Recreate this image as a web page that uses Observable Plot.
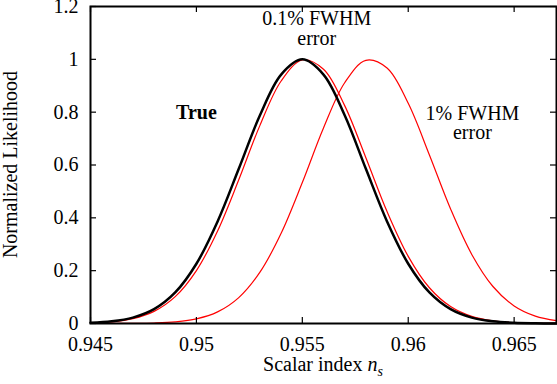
<!DOCTYPE html>
<html>
<head>
<meta charset="utf-8">
<script src="https://cdn.jsdelivr.net/npm/d3@7"></script>
<script src="https://cdn.jsdelivr.net/npm/@observablehq/plot@0.6"></script>
<style>
  html, body { margin: 0; padding: 0; background: #fff; }
  svg { display: block; }
</style>
</head>
<body>
<div id="chart"></div>
<script>
// Scalar index n_s sample points
const nsValues = [0.945, 0.946, 0.947, 0.948, 0.949, 0.950, 0.951, 0.952, 0.953, 0.954, 0.955, 0.956,
                  0.957, 0.958, 0.959, 0.960, 0.961, 0.962, 0.963, 0.964, 0.965, 0.966, 0.967];
// True likelihood (black)
const trueLike = [0.0026, 0.0081, 0.0223, 0.0543, 0.1176, 0.2262, 0.3863, 0.5856, 0.7884, 0.9423, 1.0000, 0.9423,
                  0.7884, 0.5856, 0.3863, 0.2262, 0.1176, 0.0543, 0.0223, 0.0081, 0.0026, 0.0008, 0.0002];
// 0.1% FWHM error (red)
const err01Like = [0.0021, 0.0065, 0.0184, 0.0459, 0.1017, 0.2004, 0.3504, 0.5440, 0.7500, 0.9180, 0.9976, 0.9627,
                   0.8248, 0.6275, 0.4238, 0.2542, 0.1353, 0.0640, 0.0269, 0.0100, 0.0033, 0.0010, 0.0003];
// 1% FWHM error (red)
const err1Like = [0.0000, 0.0001, 0.0005, 0.0019, 0.0062, 0.0175, 0.0439, 0.0980, 0.1943, 0.3417, 0.5337, 0.7401,
                  0.9113, 0.9963, 0.9671, 0.8335, 0.6379, 0.4334, 0.2615, 0.1401, 0.0666, 0.0281, 0.0106];

const xTicks = [0.945, 0.95, 0.955, 0.96, 0.965];
const xTickLabels = ["0.945", "0.95", "0.955", "0.96", "0.965"];
const yTicks = [0, 0.2, 0.4, 0.6, 0.8, 1, 1.2];
const yTickLabels = ["0", "0.2", "0.4", "0.6", "0.8", "1", "1.2"];

const annoText = ["True", "0.1% FWHM\nerror", "1% FWHM\nerror"];
const annoX = [0.95, 0.95568, 0.96303];
const annoY = [0.8, 1.182, 0.826];

const series = (vals) => nsValues.map((x, i) => ({x, y: vals[i]}));
const annos = annoText.map((t, i) => ({t, x: annoX[i], y: annoY[i]}));

const FONT = "'Liberation Serif', 'Times New Roman', serif";
const W = 557, H = 384, ML = 90, MR = 1, MT = 6, MB = 61;
const plotW = W - ML - MR, plotH = H - MT - MB, TICK = 6;

const chart = Plot.plot({
  width: W,
  height: H,
  marginLeft: ML,
  marginRight: MR,
  marginTop: MT,
  marginBottom: MB,
  style: {fontFamily: FONT, fontSize: "20px", background: "#fff", color: "#000"},
  x: {domain: [0.945, 0.967]},
  y: {domain: [0, 1.2]},
  marks: [
    Plot.line(series(err1Like), {x: "x", y: "y", stroke: "#ff0000", strokeWidth: 1.2, curve: "catmull-rom"}),
    Plot.line(series(err01Like), {x: "x", y: "y", stroke: "#ff0000", strokeWidth: 1.2, curve: "catmull-rom"}),
    Plot.line(series(trueLike), {x: "x", y: "y", stroke: "#000", strokeWidth: 2.5, curve: "catmull-rom"}),
    Plot.axisX(xTicks, {anchor: "bottom", tickSize: 0, tickPadding: 13, fontSize: 20, label: null,
      tickFormat: d => xTickLabels[xTicks.indexOf(d)]}),
    Plot.axisY(yTicks, {anchor: "left", tickSize: 0, tickPadding: 12, fontSize: 20, label: null,
      tickFormat: d => yTickLabels[yTicks.indexOf(d)]}),
    // inward ticks on all four sides
    Plot.tickX(xTicks, {x: d => d, stroke: "#000", strokeWidth: 1.2, insetTop: plotH - TICK}),
    Plot.tickX(xTicks, {x: d => d, stroke: "#000", strokeWidth: 1.2, insetBottom: plotH - TICK}),
    Plot.tickY(yTicks, {y: d => d, stroke: "#000", strokeWidth: 1.2, insetRight: plotW - TICK}),
    Plot.tickY(yTicks, {y: d => d, stroke: "#000", strokeWidth: 1.2, insetLeft: plotW - TICK}),
    Plot.frame({stroke: "#000", strokeWidth: 2}),
    Plot.text(annos.slice(0, 1), {x: "x", y: "y", text: "t", fontSize: 20, fontWeight: "bold", lineAnchor: "middle"}),
    Plot.text(annos.slice(1), {x: "x", y: "y", text: "t", fontSize: 20, lineAnchor: "top", lineHeight: 1})
  ]
});

document.getElementById("chart").append(chart);

const svg = d3.select(chart);
// x-axis label with italic n and subscript s, centred on the frame
const xl = svg.append("text")
  .attr("x", ML + plotW / 2)
  .attr("y", 371)
  .attr("text-anchor", "middle")
  .attr("font-family", FONT)
  .attr("font-size", 20)
  .attr("fill", "#000");
xl.append("tspan").text("Scalar index ");
xl.append("tspan").attr("font-style", "italic").text("n");
xl.append("tspan").attr("font-style", "italic").attr("font-size", 14).attr("dy", 5).text("s");

// y-axis label
svg.append("text")
  .attr("transform", `translate(17,${MT + plotH / 2}) rotate(-90)`)
  .attr("text-anchor", "middle")
  .attr("font-family", FONT)
  .attr("font-size", 20)
  .attr("fill", "#000")
  .text("Normalized Likelihood");
</script>
</body>
</html>
